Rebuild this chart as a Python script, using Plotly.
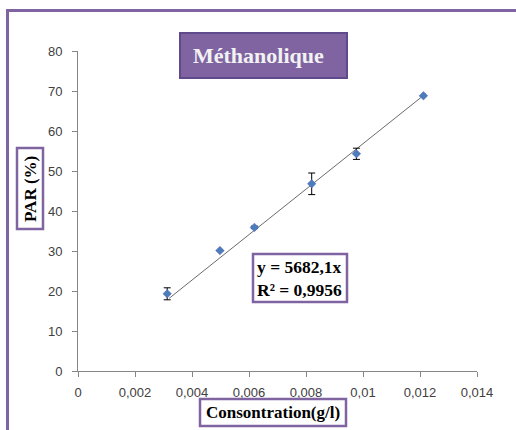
import plotly.graph_objects as go

# Data
conc = [0.00313, 0.00498, 0.00619, 0.0082, 0.00977, 0.01212]
par = [19.3, 30.1, 35.9, 46.8, 54.3, 68.8]
par_err = [1.5, 0.0, 0.3, 2.7, 1.4, 0.0]
slope = 5682.1
r2_text = "0,9956"
trend_range = [0.0032, 0.0122]

x_tickvals = [0, 0.002, 0.004, 0.006, 0.008, 0.010, 0.012, 0.014]
x_ticktext = ["0", "0,002", "0,004", "0,006", "0,008", "0,01", "0,012", "0,014"]
y_tickvals = [0, 10, 20, 30, 40, 50, 60, 70, 80]

title_text = "Méthanolique"
x_title = "Consontration(g/l)"
y_title = "PAR (%)"

W, H = 516, 430
ML, MR, MT, MB = 78, 39, 51, 59
PW, PH = W - ML - MR, H - MT - MB


def px(x):
    return (x - ML) / PW


def py(y):
    return (H - MB - y) / PH


fig = go.Figure()

fig.add_trace(go.Scatter(
    x=trend_range, y=[slope * v for v in trend_range], mode="lines",
    line=dict(color="#6a6a6a", width=1), hoverinfo="skip", showlegend=False))

fig.add_trace(go.Scatter(
    x=conc, y=par, mode="markers",
    marker=dict(symbol="diamond", size=6.5, color="#4a7ebb",
                line=dict(color="#5a5ac0", width=0.5)),
    error_y=dict(type="data", array=par_err, visible=True, color="#000000",
                 thickness=1, width=3.5),
    showlegend=False))

serif = "Liberation Serif"
purple = "#8064a2"

shapes = [
    # outer frame (only top/left visible), drawn as filled strips
    dict(type="rect", xref="paper", yref="paper",
         x0=px(6), x1=px(516), y0=py(12), y1=py(9),
         line=dict(width=0), fillcolor=purple),
    dict(type="rect", xref="paper", yref="paper",
         x0=px(6), x1=px(9), y0=py(430), y1=py(9),
         line=dict(width=0), fillcolor=purple),
    # title box
    dict(type="rect", xref="paper", yref="paper",
         x0=px(180), x1=px(347), y0=py(78), y1=py(33),
         line=dict(color="#5f4b8b", width=2), fillcolor=purple),
    # equation box
    dict(type="rect", xref="paper", yref="paper",
         x0=px(253), x1=px(347), y0=py(302), y1=py(254),
         line=dict(color=purple, width=2.5), fillcolor="white"),
    # x title box
    dict(type="rect", xref="paper", yref="paper",
         x0=px(200), x1=px(346), y0=py(426), y1=py(399),
         line=dict(color=purple, width=2.5), fillcolor="white"),
    # y title box
    dict(type="rect", xref="paper", yref="paper",
         x0=px(17), x1=px(43), y0=py(229), y1=py(148),
         line=dict(color=purple, width=2.5), fillcolor="white"),
]

annotations = [
    dict(text="<b>%s</b>" % title_text, xref="paper", yref="paper",
         x=px(258.5), y=py(55.5), xanchor="center", yanchor="middle",
         showarrow=False, font=dict(family=serif, size=22, color="#f2f2f2")),
    dict(text="<b>y = %sx</b><br><b>R² = %s</b>" % (str(slope).replace(".", ","), r2_text),
         xref="paper", yref="paper",
         x=px(299.5), y=py(278.5), xanchor="center", yanchor="middle", align="left",
         showarrow=False, font=dict(family=serif, size=17.5, color="#000000")),
    dict(text="<b>%s</b>" % x_title, xref="paper", yref="paper",
         x=px(272.5), y=py(412.5), xanchor="center", yanchor="middle",
         showarrow=False, font=dict(family=serif, size=17, color="#000000")),
    dict(text="<b>%s</b>" % y_title, xref="paper", yref="paper",
         x=px(30), y=py(189), xanchor="center", yanchor="middle", textangle=-90,
         showarrow=False, font=dict(family=serif, size=17, color="#000000")),
]

fig.update_layout(
    width=W, height=H,
    margin=dict(l=ML, r=MR, t=MT, b=MB),
    paper_bgcolor="white", plot_bgcolor="white",
    shapes=shapes, annotations=annotations,
    font=dict(family="Liberation Sans", size=13, color="#404040"),
)
fig.update_xaxes(range=[0, 0.014], tickvals=x_tickvals, ticktext=x_ticktext,
                 showgrid=False, zeroline=False, showline=True,
                 linecolor="#868686", linewidth=1, ticks="outside", ticklen=5,
                 tickcolor="#868686", ticklabelstandoff=4,
                 tickfont=dict(size=13, color="#404040"))
fig.update_yaxes(range=[0, 80], tickvals=y_tickvals,
                 showgrid=False, zeroline=False, showline=True,
                 linecolor="#868686", linewidth=1, ticks="outside", ticklen=5,
                 tickcolor="#868686", ticklabelstandoff=7,
                 tickfont=dict(size=13, color="#404040"))

fig.write_html("out.html")
